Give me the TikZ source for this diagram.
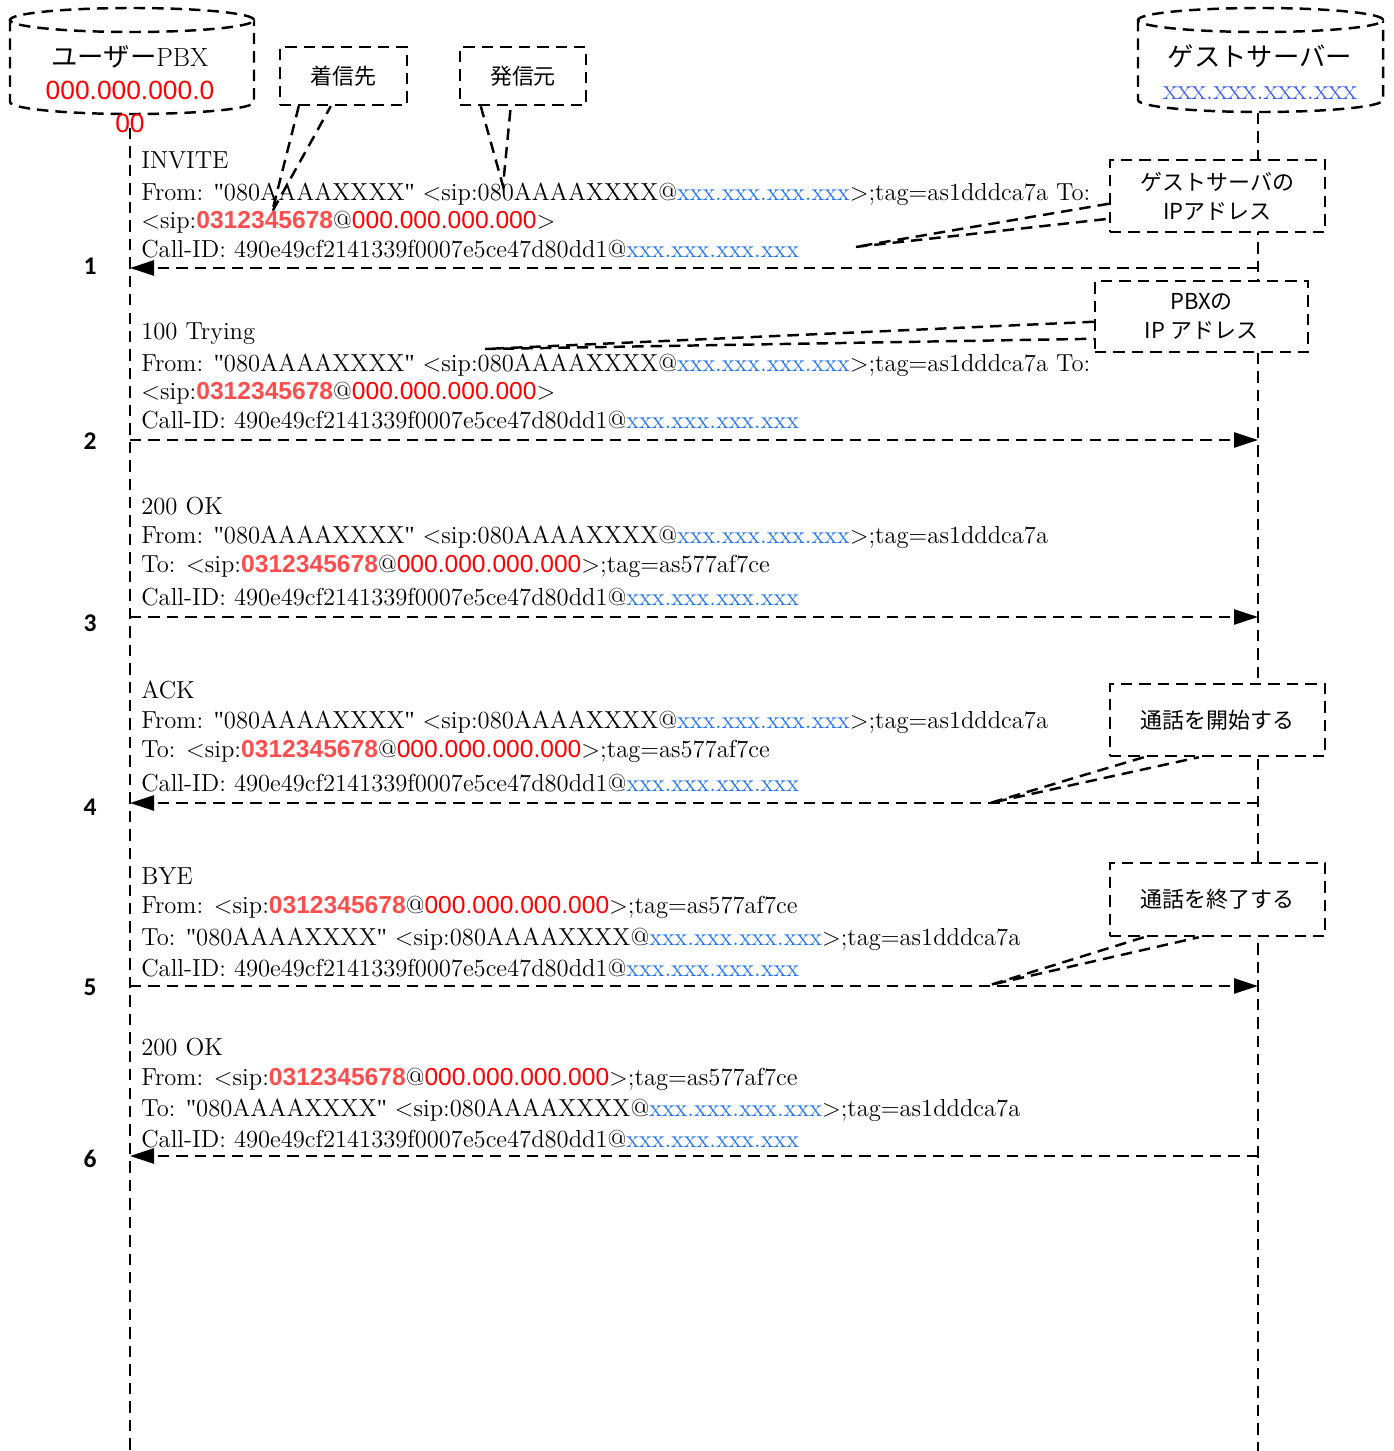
\documentclass[tikz,border=0pt]{standalone}
\usepackage{fontspec}
\usetikzlibrary{arrows.meta,calc}

\newfontfamily\jpfont{Noto Sans CJK JP}
\newfontfamily\arialfont{Liberation Sans}
\newfontfamily\numfont{Carlito}
\newfontfamily\qfont{Liberation Serif}

\definecolor{sipred}{RGB}{255,0,0}
\definecolor{numred}{RGB}{255,77,77}
\definecolor{ipblue}{RGB}{26,110,255}
\definecolor{hostblue}{RGB}{51,85,255}

\newcommand{\dq}{{\qfont"}}
\newcommand{\guestip}{\textcolor{ipblue}{xxx.xxx.xxx.xxx}}
\newcommand{\pbxip}{{\arialfont\textcolor{sipred}{000.000.000.000}}}
\newcommand{\pbxnum}{{\arialfont\bfseries\textcolor{numred}{0312345678}}}

\begin{document}
\begin{tikzpicture}[x=0.2mm, y=-0.2mm,
  dline/.style={line width=1.4pt, dash pattern=on 6.5pt off 4pt},
  msg/.style={dline, -{Triangle[length=4.8mm, width=3mm]}},
  msgline/.style={anchor=base west, inner sep=0pt, font=\fontsize{14}{16}\selectfont},
  stepnum/.style={inner sep=0pt, font=\numfont\bfseries\fontsize{14.5}{16}\selectfont},
  partname/.style={align=center, inner sep=0pt, font=\fontsize{15}{18.7}\selectfont},
  callout/.style={dline, draw, fill=white, align=center, inner sep=0pt, font=\jpfont\fontsize{12.5}{16.5}\selectfont}]

\useasboundingbox (0,0) rectangle (1393,1451);

% lifelines
\coordinate (pbxtop) at (130,128);
\coordinate (pbxend) at (130,1451);
\coordinate (gsttop) at (1258,113);
\coordinate (gstend) at (1258,1451);
\draw[dline] (pbxtop) -- (pbxend);
\draw[dline] (gsttop) -- (gstend);

% cylinders
\draw[dline, fill=white] (10,20) -- (10,102) arc[start angle=180, end angle=360, x radius=24.4mm, y radius=2.4mm] -- (254,20);
\draw[dline, fill=white] (132,20) ellipse[x radius=24.4mm, y radius=2.4mm];
\draw[dline, fill=white] (1138,20) -- (1138,100) arc[start angle=180, end angle=360, x radius=24.5mm, y radius=2.4mm] -- (1383,20);
\draw[dline, fill=white] (1260.5,20) ellipse[x radius=24.5mm, y radius=2.4mm];

\node[partname] (pbx) at (130,89) {{\jpfont ユーザー}PBX\\{\arialfont\color{sipred}000.000.000.0}\\{\arialfont\color{sipred}00}};
\node[partname] (gst) at (1260,72) {{\jpfont ゲストサーバー}\\{\fontsize{16.8}{18.7}\selectfont\textcolor{hostblue}{xxx.xxx.xxx.xxx}}};

% 1 INVITE
\node[msgline] (m1a) at (141,168) {INVITE};
\node[msgline] (m1b) at (141,200) {From: \dq080AAAAXXXX\dq{} <sip:080AAAAXXXX@\guestip>;tag=as1dddca7a To:};
\node[msgline] (m1c) at (141,228) {<sip:\pbxnum @\pbxip>};
\node[msgline] (m1d) at (141,257) {Call-ID: 490e49cf2141339f0007e5ce47d80dd1@\guestip};

% 2 100 Trying
\node[msgline] (m2a) at (141,339) {100 Trying};
\node[msgline] (m2b) at (141,371) {From: \dq080AAAAXXXX\dq{} <sip:080AAAAXXXX@\guestip>;tag=as1dddca7a To:};
\node[msgline] (m2c) at (141,399) {<sip:\pbxnum @\pbxip>};
\node[msgline] (m2d) at (141,428) {Call-ID: 490e49cf2141339f0007e5ce47d80dd1@\guestip};

% 3 200 OK
\node[msgline] (m3a) at (141,514) {200 OK};
\node[msgline] (m3b) at (141,543) {From: \dq080AAAAXXXX\dq{} <sip:080AAAAXXXX@\guestip>;tag=as1dddca7a};
\node[msgline] (m3c) at (141,572) {To: <sip:\pbxnum @\pbxip>;tag=as577af7ce};
\node[msgline] (m3d) at (141,605) {Call-ID: 490e49cf2141339f0007e5ce47d80dd1@\guestip};

% 4 ACK
\node[msgline] (m4a) at (141,698) {ACK};
\node[msgline] (m4b) at (141,728) {From: \dq080AAAAXXXX\dq{} <sip:080AAAAXXXX@\guestip>;tag=as1dddca7a};
\node[msgline] (m4c) at (141,757) {To: <sip:\pbxnum @\pbxip>;tag=as577af7ce};
\node[msgline] (m4d) at (141,791) {Call-ID: 490e49cf2141339f0007e5ce47d80dd1@\guestip};

% 5 BYE
\node[msgline] (m5a) at (141,884) {BYE};
\node[msgline] (m5b) at (141,913) {From: <sip:\pbxnum @\pbxip>;tag=as577af7ce};
\node[msgline] (m5c) at (141,945) {To: \dq080AAAAXXXX\dq{} <sip:080AAAAXXXX@\guestip>;tag=as1dddca7a};
\node[msgline] (m5d) at (141,976) {Call-ID: 490e49cf2141339f0007e5ce47d80dd1@\guestip};

% 6 200 OK
\node[msgline] (m6a) at (141,1055) {200 OK};
\node[msgline] (m6b) at (141,1085) {From: <sip:\pbxnum @\pbxip>;tag=as577af7ce};
\node[msgline] (m6c) at (141,1116) {To: \dq080AAAAXXXX\dq{} <sip:080AAAAXXXX@\guestip>;tag=as1dddca7a};
\node[msgline] (m6d) at (141,1147) {Call-ID: 490e49cf2141339f0007e5ce47d80dd1@\guestip};

% arrows
\coordinate (p1) at (130,268);  \coordinate (g1) at (1258,268);
\coordinate (p2) at (130,440);  \coordinate (g2) at (1258,440);
\coordinate (p3) at (130,617);  \coordinate (g3) at (1258,617);
\coordinate (p4) at (130,803);  \coordinate (g4) at (1258,803);
\coordinate (p5) at (130,986);  \coordinate (g5) at (1258,986);
\coordinate (p6) at (130,1156); \coordinate (g6) at (1258,1156);
\draw[msg] (g1) -- (p1);
\draw[msg] (p2) -- (g2);
\draw[msg] (p3) -- (g3);
\draw[msg] (g4) -- (p4);
\draw[msg] (p5) -- (g5);
\draw[msg] (g6) -- (p6);

\node[stepnum] (n1) at (90,266) {1};
\node[stepnum] (n2) at (90,441) {2};
\node[stepnum] (n3) at (90,623) {3};
\node[stepnum] (n4) at (90,807) {4};
\node[stepnum] (n5) at (90,987) {5};
\node[stepnum] (n6) at (90,1159) {6};

% callouts
\node[callout, minimum width=25.4mm, minimum height=11.6mm] (callee) at (343.5,76) {着信先};
\coordinate (callee tip) at (272,212);
\draw[dline] ($(callee.south west)+(20,0)$) -- (callee tip) -- ($(callee.south west)+(52,0)$);

\node[callout, minimum width=25.2mm, minimum height=11.6mm] (caller) at (523,76) {発信元};
\coordinate (caller tip) at (503,186);
\draw[dline] ($(caller.south west)+(22,0)$) -- (caller tip) -- ($(caller.south west)+(52,0)$);

\node[callout, minimum width=43mm, minimum height=14.4mm] (gstip) at (1217.5,196) {ゲストサーバの\\IPアドレス};
\coordinate (gstip tip) at (855,247);
\draw[dline] ($(gstip.north west)+(0,45)$) -- (gstip tip) -- ($(gstip.north west)+(0,60)$);

\node[callout, minimum width=42.6mm, minimum height=14.2mm] (pbxipbox) at (1201.5,316.5) {PBXの\\IP アドレス};
\coordinate (pbxipbox tip) at (485,349);
\draw[dline] ($(pbxipbox.north west)+(0,42)$) -- (pbxipbox tip) -- ($(pbxipbox.north west)+(0,59)$);

\node[callout, minimum width=43mm, minimum height=14.4mm] (callstart) at (1217.5,720) {通話を開始する};
\coordinate (callstart tip) at (990,803);
\draw[dline] ($(callstart.south west)+(35,0)$) -- (callstart tip) -- ($(callstart.south west)+(90,0)$);

\node[callout, minimum width=43mm, minimum height=14.6mm] (callend) at (1217.5,899.5) {通話を終了する};
\coordinate (callend tip) at (990,985);
\draw[dline] ($(callend.south west)+(35,0)$) -- (callend tip) -- ($(callend.south west)+(90,0)$);
\end{tikzpicture}
\end{document}
